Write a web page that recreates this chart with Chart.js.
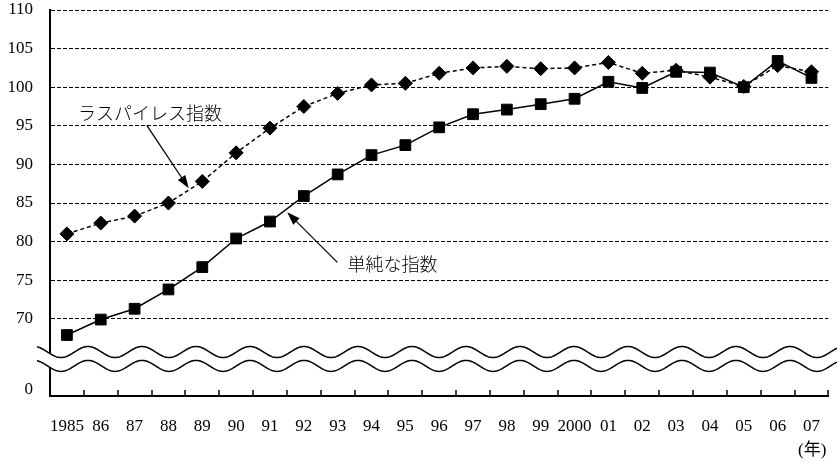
<!DOCTYPE html>
<html>
<head>
<meta charset="utf-8">
<script src="https://cdn.jsdelivr.net/npm/chart.js@4.4.1/dist/chart.umd.min.js"></script>
<style>
    body { margin: 0; background: #fff; }
    #wrap { width: 837px; height: 462px; }
</style>
</head>
<body>
<div id="wrap"><canvas id="index_chart"></canvas></div>
<script>
// data
let years = ['1985', '86', '87', '88', '89', '90', '91', '92', '93', '94', '95', '96',
    '97', '98', '99', '2000', '01', '02', '03', '04', '05', '06', '07'];
let laspeyres = [81.0, 82.4, 83.3, 85.0, 87.8, 91.5, 94.7, 97.5, 99.2, 100.3, 100.5, 101.8,
    102.5, 102.7, 102.4, 102.5, 103.2, 101.8, 102.2, 101.3, 100.1, 102.8, 102.0];
let simple = [67.9, 69.9, 71.3, 73.8, 76.7, 80.4, 82.6, 85.9, 88.7, 91.2, 92.5, 94.8,
    96.5, 97.1, 97.8, 98.5, 100.7, 99.9, 102.0, 101.9, 100.0, 103.4, 101.2];
let y_ticks = [70, 75, 80, 85, 90, 95, 100, 105, 110];
let y_break_label = '0';
let name_laspeyres = 'ラスパイレス指数';
let name_simple = '単純な指数';
let unit_label = '(年)';

const num_font = "'Liberation Serif', 'DejaVu Serif', serif";
const jp_font = "'Noto Sans CJK JP', 'Noto Sans CJK SC', sans-serif";
const zero_pos = 60.8;   // where the "0" label sits below the break

function arrow(g, x1, y1, x2, y2) {
    let a = Math.atan2(y2 - y1, x2 - x1);
    let c = Math.cos(a), s = Math.sin(a);
    g.beginPath();
    g.moveTo(x1, y1);
    g.lineTo(x2 - 10 * c, y2 - 10 * s);
    g.stroke();
    g.beginPath();
    g.moveTo(x2, y2);
    g.lineTo(x2 - 13 * c + 4.5 * s, y2 - 13 * s - 4.5 * c);
    g.lineTo(x2 - 13 * c - 4.5 * s, y2 - 13 * s + 4.5 * c);
    g.closePath();
    g.fill();
}

const extras = {
    id: 'extras',
    afterDraw(chart) {
        let g = chart.ctx;
        let xs = chart.scales.x;
        let ys = chart.scales.y;
        let area = chart.chartArea;
        let step = xs.getPixelForValue(1) - xs.getPixelForValue(0);
        g.save();

        // small ticks pointing up from the x axis
        g.strokeStyle = '#000';
        g.lineWidth = 1.5;
        g.beginPath();
        for (let i = 0; i < years.length; i++) {
            let tx = Math.round(xs.getPixelForValue(i) + step / 2);
            g.moveTo(tx, area.bottom);
            g.lineTo(tx, area.bottom - 6);
        }
        g.stroke();

        // axis break: two waves, white in between
        let up = ys.getPixelForValue(65.7);
        let low = ys.getPixelForValue(63.9);
        let x0 = area.left - 13;
        let x1 = chart.width;
        let wy = function (x, c) {
            return c - 5.5 * Math.cos(2 * Math.PI * (x - area.left - 38) / 54);
        };
        g.beginPath();
        for (let x = x0; x <= x1; x++) {
            if (x === x0) g.moveTo(x, wy(x, up)); else g.lineTo(x, wy(x, up));
        }
        for (let x = x1; x >= x0; x--) {
            g.lineTo(x, wy(x, low));
        }
        g.closePath();
        g.fillStyle = '#fff';
        g.fill();
        g.strokeStyle = '#000';
        g.lineWidth = 1.5;
        [up, low].forEach(function (c) {
            g.beginPath();
            for (let x = x0; x <= x1; x++) {
                if (x === x0) g.moveTo(x, wy(x, c)); else g.lineTo(x, wy(x, c));
            }
            g.stroke();
        });

        // labels with arrows
        g.fillStyle = '#000';
        g.lineWidth = 1.3;
        g.font = '300 18px ' + jp_font;
        g.textAlign = 'left';
        g.textBaseline = 'middle';
        g.fillText(name_laspeyres, xs.getPixelForValue(0.33), ys.getPixelForValue(96.6));
        arrow(g, xs.getPixelForValue(2.36), ys.getPixelForValue(95.06),
            xs.getPixelForValue(3.6), ys.getPixelForValue(86.9));
        g.fillText(name_simple, xs.getPixelForValue(8.29), ys.getPixelForValue(77.14));
        arrow(g, xs.getPixelForValue(7.99), ys.getPixelForValue(77.31),
            xs.getPixelForValue(6.51), ys.getPixelForValue(83.8));

        // unit under the last label
        g.font = '17px ' + num_font + ', ' + jp_font;
        g.textAlign = 'right';
        g.fillText(unit_label, area.right - 2, area.bottom + 55);
        g.restore();
    }
};

let chart = new Chart(document.getElementById('index_chart'), {
    type: 'line',
    data: {
        labels: years,
        datasets: [{
            label: name_laspeyres,
            data: laspeyres,
            borderColor: '#000',
            backgroundColor: '#000',
            borderWidth: 1.5,
            borderDash: [4, 3],
            pointStyle: 'rectRot',
            pointRadius: 7,
            pointBorderWidth: 1,
            pointBackgroundColor: '#000',
            pointBorderColor: '#000',
            tension: 0
        }, {
            label: name_simple,
            data: simple,
            borderColor: '#000',
            backgroundColor: '#000',
            borderWidth: 1.5,
            pointStyle: 'rect',
            pointRadius: 7.6,
            pointBorderWidth: 1,
            pointBackgroundColor: '#000',
            pointBorderColor: '#000',
            tension: 0
        }]
    },
    options: {
        responsive: true,
        maintainAspectRatio: false,
        animation: false,
        layout: { padding: { top: 10, right: 7, left: 0, bottom: 0 } },
        plugins: {
            legend: { display: false },
            tooltip: { enabled: false }
        },
        scales: {
            x: {
                offset: true,
                grid: { display: false },
                border: { display: true, color: '#000', width: 2 },
                ticks: {
                    color: '#000',
                    padding: 14,
                    maxRotation: 0,
                    autoSkip: false,
                    font: { family: num_font, size: 17, lineHeight: 1 }
                },
                afterFit: function (scale) {
                    scale.height = 66;
                    scale.paddingLeft = 0;
                    scale.paddingRight = 0;
                }
            },
            y: {
                min: 60,
                max: 110,
                afterBuildTicks: function (scale) {
                    scale.ticks = [zero_pos].concat(y_ticks).map(function (v) { return { value: v }; });
                },
                afterFit: function (scale) {
                    scale.width = 50;
                    scale.paddingTop = 0;
                    scale.paddingBottom = 0;
                },
                grid: {
                    drawTicks: false,
                    color: function (c) {
                        return c.tick && c.tick.value >= 70 ? '#000' : 'rgba(0,0,0,0)';
                    }
                },
                border: { display: true, color: '#000', width: 2, dash: [4, 2] },
                ticks: {
                    color: '#000',
                    padding: 17,
                    font: { family: num_font, size: 17, lineHeight: 1 },
                    callback: function (v) { return v < 70 ? y_break_label : v; }
                }
            }
        }
    },
    plugins: [extras]
});
</script>
</body>
</html>
